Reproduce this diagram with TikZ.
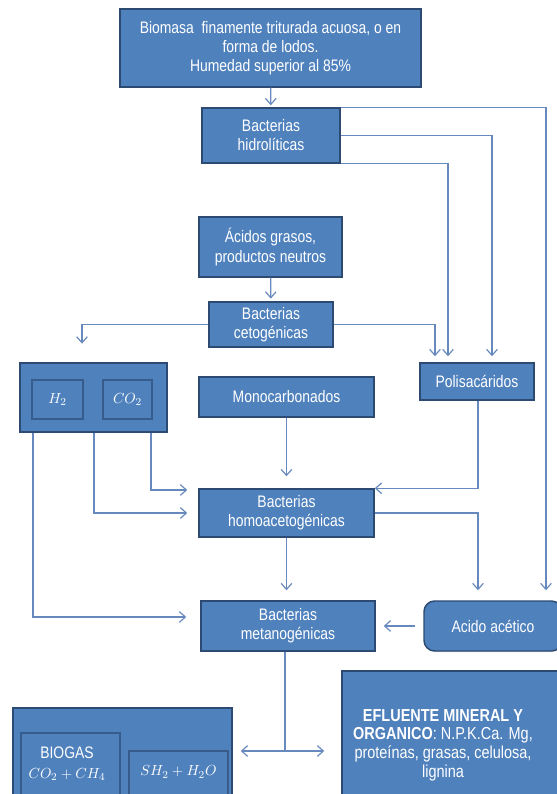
\documentclass[tikz,border=0pt]{standalone}
\usepackage{fontspec}
\setmainfont[FakeStretch=0.835]{Liberation Sans}
\usepackage{tikz}
\usetikzlibrary{arrows.meta,shadows}
\definecolor{boxblue}{RGB}{79,129,189}
\definecolor{boxline}{RGB}{44,74,114}
\definecolor{innerline}{RGB}{55,92,140}
\definecolor{flowline}{RGB}{104,137,189}
\newcommand{\pix}{0.75pt}

\begin{document}
\begin{tikzpicture}[x=0.75pt,y=-0.75pt]
\useasboundingbox (0,0) rectangle (557,794);

		\begin{scope}[every node/.style={draw=boxline,line width=1.1pt,fill=boxblue,text=white,
		              align=center,inner sep=0pt,font=\fontsize{12.5}{14.3}\selectfont,
		              drop shadow={shadow xshift=0.8pt,shadow yshift=-0.8pt,opacity=0.3}}]
		    \node[minimum width=301*\pix,minimum height=78*\pix] (top) at (270.5,48)
		        {Biomasa \ finamente triturada acuosa, o en\\forma de lodos.\\Humedad superior al 85\%};
		    \node[minimum width=138*\pix,minimum height=55*\pix] (hidro) at (271,135.5) {Bacterias\\hidrolíticas};
		    \node[minimum width=143*\pix,minimum height=60*\pix] (acidos) at (270.5,247) {Ácidos grasos,\\productos neutros};
		    \node[minimum width=124*\pix,minimum height=45*\pix] (ceto) at (271,324.5) {Bacterias\\cetogénicas};
		    \node[minimum width=147*\pix,minimum height=69*\pix] (gases) at (93.5,397.5) {};
		    \node[minimum width=175*\pix,minimum height=40*\pix] (mono) at (286.5,397) {Monocarbonados};
		    \node[minimum width=114*\pix,minimum height=37*\pix] (poli) at (477,381.5) {Polisacáridos};
		    \node[minimum width=175*\pix,minimum height=48*\pix] (homo) at (286.5,513) {Bacterias\\homoacetogénicas};
		    \node[minimum width=174*\pix,minimum height=50*\pix] (meta) at (288,626) {Bacterias\\metanogénicas};
		    \node[minimum width=138*\pix,minimum height=50*\pix,rounded corners=8pt] (acetico) at (493,626) {Acido acético};
		    \node[minimum width=219*\pix,minimum height=112*\pix] (biogas) at (122.5,764) {};
		    \node[minimum width=223*\pix,minimum height=159*\pix] (efluente) at (453.5,750.5) {};
		\end{scope}

		% inner boxes
		\begin{scope}[every node/.style={draw=innerline,line width=1.6pt,fill=boxblue,text=white,
		              align=center,inner sep=0pt,font=\fontsize{11}{13}\selectfont}]
		    \node[minimum width=51*\pix,minimum height=39*\pix] (h2) at (57.5,399.5) {$H_2$};
		    \node[minimum width=49*\pix,minimum height=39*\pix] (co2) at (127.5,399.5) {$CO_2$};
		    \node[minimum width=99*\pix,minimum height=87*\pix] (ch4) at (70.5,776.5) {};
		    \node[minimum width=99*\pix,minimum height=69*\pix] (sh2) at (178.5,785.5) {};
		\end{scope}

		\begin{scope}[every node/.style={text=white,align=center,inner sep=0pt,
		              font=\fontsize{12.5}{15}\selectfont}]
		    \node (ch4txt) at (67,764) {BIOGAS\\{\fontsize{11}{13}\selectfont$CO_2+CH_4$}};
		    \node[font=\fontsize{11}{13}\selectfont] (sh2txt) at (178.5,772) {$SH_2+H_2O$};
		    \node[font=\fontsize{13}{14}\selectfont] (efltxt) at (443,745)
		        {\textbf{EFLUENTE MINERAL Y}\\\textbf{ORGANICO}: N.P.K.Ca. Mg,\\proteínas, grasas, celulosa,\\lignina};
		\end{scope}

		% rails of the connectors
		\coordinate (railA) at (546,0);
		\coordinate (railB) at (492,0);
		\coordinate (railC) at (448,0);
		\coordinate (railD) at (435,0);
		\coordinate (railE) at (82,0);
		\coordinate (railF) at (478,0);
		\coordinate (g1) at (33,617);
		\coordinate (g2) at (94,513);
		\coordinate (g3) at (151,490);
		\coordinate (split) at (285,751);

		\begin{scope}[>={Straight Barb[length=4.5pt,width=8pt]},
		              every path/.style={draw=flowline,line width=0.9pt}]
		    \draw[->,shorten >=1.5pt] (top) -- (hidro);
		    \draw[->,shorten >=7.5pt] (hidro.north east) -| (railA |- acetico.north);
		    \draw[->,shorten >=4.5pt] (hidro.east) -| (railB |- poli.north);
		    \draw[->,shorten >=4.5pt] (hidro.south east) -| (railC |- poli.north);
		    \draw[->,shorten >=2pt] (acidos) -- (ceto);
		    \draw[->,shorten >=14pt] (ceto.west) -| (railE |- gases.north);
		    \draw[->,shorten >=4.5pt] (ceto.east) -| (railD |- poli.north);
		    \draw[->,shorten >=10.5pt] (gases.south -| g1) |- (meta.west |- g1);
		    \draw[->,shorten >=8.25pt] (gases.south -| g2) |- (homo.west |- g2);
		    \draw[->,shorten >=8.25pt] (gases.south -| g3) |- (homo.west |- g3);
		    \draw[->,shorten >=9pt] (mono) -- (homo);
		    \draw[->] (poli.south -| railF) |- (homo.north east);
		    \draw[->,shorten >=7.5pt] (homo.east) -| (railF |- acetico.north);
		    \draw[->,shorten >=7.5pt] (homo.south) -- (homo.south |- meta.north);
		    \draw[->,shorten <=6pt,shorten >=6pt] (acetico) -- (meta);
		    \draw (meta.south -| split) -- (split);
		    \draw[->,shorten >=6pt] (split) -- (biogas.east |- split);
		    \draw[->,shorten >=12.75pt] (split) -- (efluente.west |- split);
		\end{scope}
\end{tikzpicture}
\end{document}
